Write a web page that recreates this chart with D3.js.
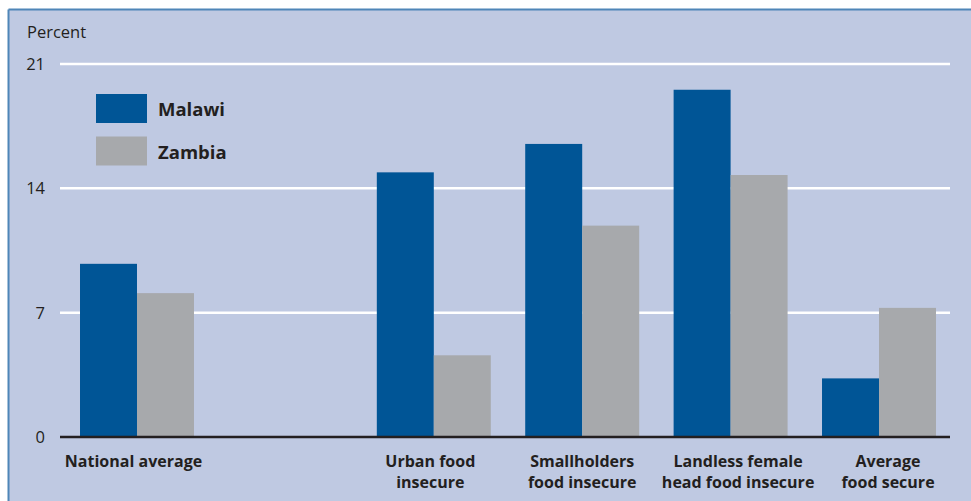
<!DOCTYPE html>
<html>
<head>
  <meta charset="utf-8">
  <title>Malawi Zambia</title>
  <script src="https://d3js.org/d3.v7.min.js"></script>
  <style type="text/css">
    body { margin: 0; background: #fff; }
    text { font-family: 'Open Sans', sans-serif; fill: #231f20; }
    .tick { font-size: 16.5px; }
    .cat { font-size: 16px; font-weight: bold; text-anchor: middle; }
    .legend { font-size: 18.5px; font-weight: bold; }
  </style>
</head>
<body>
  <div id="viz"></div>
<script type="text/javascript">

  // categories (the blank one is the empty slot between the groups)
  const categories = ["National average", "", "Urban food insecure", "Smallholders food insecure",
    "Landless female head food insecure", "Average food secure"];
  const catLines = [["National average"], [], ["Urban food", "insecure"], ["Smallholders", "food insecure"],
    ["Landless female", "head food insecure"], ["Average", "food secure"]];
  const seriesNames = ["Malawi", "Zambia"];
  const malawi = [9.75, null, 14.9, 16.5, 19.55, 3.3];
  const zambia = [8.1, null, 4.6, 11.9, 14.75, 7.27];
  const yTicks = [0, 7, 14, 21];

  // labels are not quite centred under their groups in the original
  const labelShift = [-3.5, 0, -3.5, 0, 7.5, 9];

  const colorSet = {
    bg: "#bfc9e2",
    border: "#4f86b8",
    Malawi: "#005596",
    Zambia: "#a7a9ac",
    grid: "#ffffff",
    axis: "#231f20"
  };

  const FULLW = 971;
  const FULLH = 501;
  const PLOT = { left: 60, right: 950, top: 64, bottom: 437 };

  const svg = d3.select("#viz").append("svg")
    .attr("width", FULLW)
    .attr("height", FULLH);

  // panel with border on top and left
  svg.append("rect")
    .attr("x", 9).attr("y", 10)
    .attr("width", FULLW - 9).attr("height", FULLH - 10)
    .attr("fill", colorSet.bg);
  svg.append("line")
    .attr("x1", 8.5).attr("x2", FULLW).attr("y1", 9.5).attr("y2", 9.5)
    .attr("stroke", colorSet.border).attr("stroke-width", 2);
  svg.append("line")
    .attr("x1", 8.5).attr("x2", 8.5).attr("y1", 9.5).attr("y2", FULLH)
    .attr("stroke", colorSet.border).attr("stroke-width", 2);

  const x = d3.scaleBand()
    .domain(categories)
    .range([63, 953])
    .paddingInner(0.232)
    .paddingOuter(0.1146);

  const xSub = d3.scaleBand()
    .domain(seriesNames)
    .range([0, x.bandwidth()]);

  const y = d3.scaleLinear()
    .domain([0, 21])
    .range([PLOT.bottom, PLOT.top]);

  // gridlines
  svg.append("g").selectAll("line")
    .data(yTicks.filter(d => d > 0))
    .join("line")
    .attr("x1", PLOT.left).attr("x2", PLOT.right)
    .attr("y1", d => y(d)).attr("y2", d => y(d))
    .attr("stroke", colorSet.grid)
    .attr("stroke-width", 2.5);

  // tick labels
  svg.append("g").selectAll("text")
    .data(yTicks)
    .join("text")
    .attr("class", "tick")
    .attr("x", 45)
    .attr("y", d => y(d) + 6)
    .attr("text-anchor", "end")
    .text(d => d);

  svg.append("text")
    .attr("class", "tick")
    .attr("x", 27).attr("y", 38)
    .text("Percent");

  // bars
  const series = { Malawi: malawi, Zambia: zambia };
  seriesNames.forEach(name => {
    svg.append("g").selectAll("rect")
      .data(categories.map((c, i) => ({ c: c, v: series[name][i] })).filter(d => d.v != null))
      .join("rect")
      .attr("x", d => x(d.c) + xSub(name))
      .attr("width", xSub.bandwidth())
      .attr("y", d => y(d.v))
      .attr("height", d => y(0) - y(d.v))
      .attr("fill", colorSet[name]);
  });

  // baseline
  svg.append("line")
    .attr("x1", PLOT.left).attr("x2", PLOT.right)
    .attr("y1", y(0)).attr("y2", y(0))
    .attr("stroke", colorSet.axis)
    .attr("stroke-width", 2.5);

  // category labels
  const labels = svg.append("g").selectAll("text")
    .data(categories.map((c, i) => ({ c: c, lines: catLines[i], shift: labelShift[i] })))
    .join("text")
    .attr("class", "cat")
    .attr("y", 467);
  labels.selectAll("tspan")
    .data(d => d.lines.map(l => ({ l: l, cx: x(d.c) + x.bandwidth() / 2 + d.shift })))
    .join("tspan")
    .attr("x", d => d.cx)
    .attr("dy", (d, i) => i === 0 ? 0 : 21)
    .text(d => d.l);

  // legend
  const legend = svg.append("g");
  seriesNames.forEach((name, i) => {
    legend.append("rect")
      .attr("x", 96).attr("y", 94 + i * 42.5)
      .attr("width", 51).attr("height", 29)
      .attr("fill", colorSet[name]);
    legend.append("text")
      .attr("class", "legend")
      .attr("x", 158).attr("y", 116 + i * 42.5)
      .text(name);
  });

</script>
</body>
</html>
